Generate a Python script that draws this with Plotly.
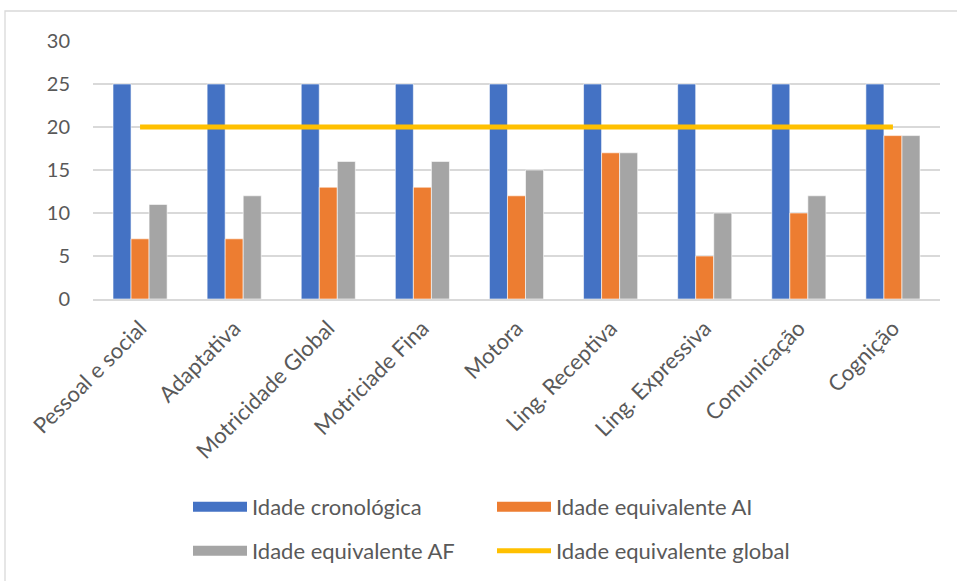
import plotly.graph_objects as go

categories = ["Pessoal e social", "Adaptativa", "Motricidade Global", "Motriciade Fina",
              "Motora", "Ling. Receptiva", "Ling. Expressiva", "Comunicação", "Cognição"]
idade_cronologica = [25, 25, 25, 25, 25, 25, 25, 25, 25]
idade_ai = [7, 7, 13, 13, 12, 17, 5, 10, 19]
idade_af = [11, 12, 16, 16, 15, 17, 10, 12, 19]
idade_global = [20, 20, 20, 20, 20, 20, 20, 20, 20]
y_ticks = [0, 5, 10, 15, 20, 25, 30]

BLUE = "#4472C4"
ORANGE = "#ED7D31"
GRAY = "#A5A5A5"
YELLOW = "#FFC000"
TEXT = "#595959"
GRID = "#D9D9D9"
FONT = "Lato, 'Open Sans', sans-serif"

W, H = 957, 581
ML, MR, MT, MB = 93, 17, 41, 282

fig = go.Figure()

bar_series = [("Idade cronológica", idade_cronologica, BLUE),
              ("Idade equivalente AI", idade_ai, ORANGE),
              ("Idade equivalente AF", idade_af, GRAY)]
for name, vals, col in bar_series:
    fig.add_trace(go.Bar(x=categories, y=vals, name=name, marker_color=col,
                         marker_line=dict(color="white", width=0.6),
                         showlegend=False, hoverinfo="y+name"))

fig.add_trace(go.Scatter(x=categories, y=idade_global, mode="lines",
                         name="Idade equivalente global",
                         line=dict(color=YELLOW, width=5), showlegend=False))

# legend entries (2 x 2 grid): wide swatches drawn as thick lines
legend_items = [("Idade cronológica", BLUE, 15, "legend", 0, 0),
                ("Idade equivalente AI", ORANGE, 15, "legend2", 1, 0),
                ("Idade equivalente AF", GRAY, 15, "legend3", 0, 1),
                ("Idade equivalente global", YELLOW, 5, "legend4", 1, 1)]
col_x = [188, 492]
row_y = [507, 551]

legend_layout = {}
for name, col, lw, lg, c, r in legend_items:
    fig.add_trace(go.Scatter(x=[None], y=[None], mode="lines", name=name,
                             line=dict(color=col, width=lw), legend=lg,
                             hoverinfo="skip"))
    legend_layout[lg] = dict(orientation="h", xref="container", yref="container",
                             xanchor="left", yanchor="middle",
                             x=col_x[c] / W, y=1 - row_y[r] / H,
                             font=dict(family=FONT, size=22, color=TEXT),
                             itemwidth=54, bgcolor="rgba(0,0,0,0)")

# outer chart frame
px = lambda p: (p - ML) / (W - ML - MR)
py = lambda p: (H - MB - p) / (H - MT - MB)
fig.add_shape(type="rect", xref="paper", yref="paper",
              x0=px(5), x1=px(W + 10), y0=py(H + 10), y1=py(11),
              line=dict(color=GRID, width=1.3), layer="below")

fig.update_layout(
    width=W, height=H,
    margin=dict(l=ML, r=MR, t=MT, b=MB, autoexpand=False),
    paper_bgcolor="white", plot_bgcolor="white",
    barmode="group", bargap=0.425, bargroupgap=0,
    font=dict(family=FONT, color=TEXT),
    xaxis=dict(type="category", tickangle=-45, showgrid=False,
               tickfont=dict(family=FONT, size=22, color=TEXT),
               showline=True, linecolor=GRID, linewidth=1.5,
               ticks="", ticklabelstandoff=6, fixedrange=True),
    yaxis=dict(range=[0, 30], tickvals=y_ticks, showgrid=True, gridcolor=GRID,
               gridwidth=1.5, zeroline=False, showline=False, ticks="",
               tickfont=dict(family=FONT, size=20, color=TEXT),
               ticklabelstandoff=22, fixedrange=True),
    showlegend=True,
    **legend_layout,
)

fig.write_html("out.html")
